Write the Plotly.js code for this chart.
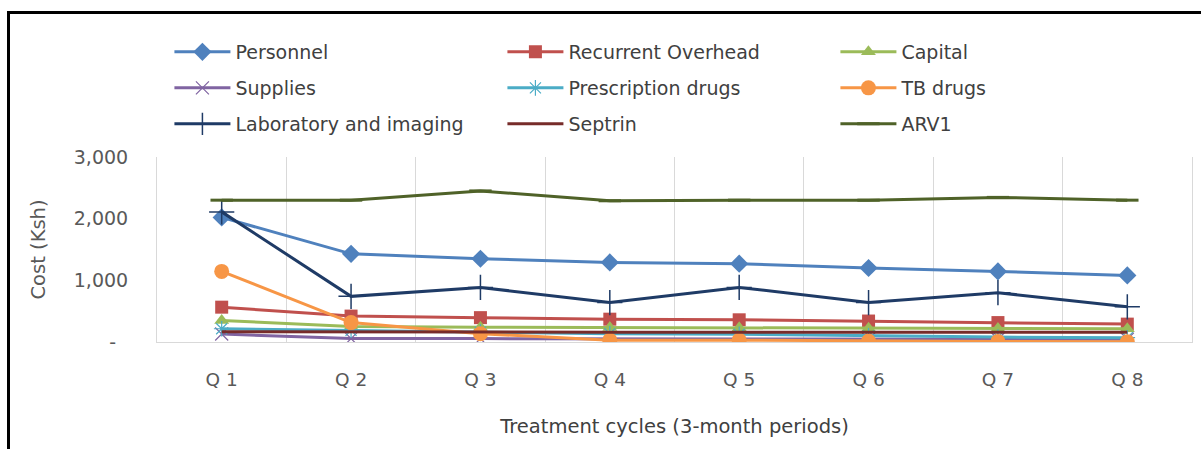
<!DOCTYPE html>
<html>
<head>
<meta charset="utf-8">
<script src="https://cdn.plot.ly/plotly-3.0.1.min.js"></script>
<style>
  html, body { margin: 0; padding: 0; background: #fff; }
  #wrap { position: relative; width: 1201px; height: 449px; overflow: hidden; }
  #chart { position: absolute; left: 0; top: 0; width: 1201px; height: 449px; }
  #frame { position: absolute; left: 7px; top: 11px; width: 1300px; height: 600px;
           border-left: 3px solid #000; border-top: 3px solid #000; pointer-events: none; }
</style>
</head>
<body>
<div id="wrap">
  <div id="chart"></div>
  <div id="frame"></div>
</div>
<script>
// ---- data ----
const categories = ['Q 1', 'Q 2', 'Q 3', 'Q 4', 'Q 5', 'Q 6', 'Q 7', 'Q 8'];
const personnel    = [2020, 1430, 1350, 1290, 1270, 1200, 1145, 1080];
const recurrent    = [565, 420, 395, 370, 360, 340, 315, 290];
const capital      = [350, 250, 240, 235, 230, 225, 220, 215];
const supplies     = [130, 55, 55, 50, 50, 45, 45, 45];
const prescription = [215, 190, 160, 135, 125, 100, 80, 70];
const tbDrugs      = [1145, 315, 135, 30, 30, 15, 10, 5];
const laboratory   = [2110, 740, 885, 640, 885, 640, 800, 570];
const septrin      = [165, 160, 160, 160, 160, 160, 160, 160];
const arv1         = [2300, 2300, 2450, 2290, 2300, 2300, 2345, 2300];
const yTickVals = [0, 1000, 2000, 3000];
const yTickText = ['-\u00a0\u00a0', '1,000', '2,000', '3,000'];

const FONT = 'DejaVu Sans, Open Sans, sans-serif';

function tr(name, y, color, symbol, size, legend, extra) {
  const t = {
    type: 'scatter', mode: 'lines+markers', name: name,
    x: categories, y: y, legend: legend,
    line: { color: color, width: 3 },
    marker: { symbol: symbol, size: size, color: color, line: { color: color, width: 0 } }
  };
  if (extra) Object.assign(t.marker, extra);
  return t;
}

const data = [
  tr('Personnel', personnel, '#4F81BD', 'diamond', 14, 'legend'),
  tr('Recurrent Overhead', recurrent, '#C0504D', 'square', 13, 'legend'),
  tr('Capital', capital, '#9BBB59', 'triangle-up', 13, 'legend'),
  tr('Supplies', supplies, '#8064A2', 'x-thin', 13, 'legend2', { line: { color: '#8064A2', width: 1.2 } }),
  tr('Prescription drugs', prescription, '#4BACC6', 'asterisk', 13, 'legend2', { line: { color: '#4BACC6', width: 1.2 } }),
  tr('TB drugs', tbDrugs, '#F79646', 'circle', 15, 'legend2'),
  tr('Laboratory and imaging', laboratory, '#1F3B66', 'cross-thin', 18, 'legend3', { line: { color: '#1F3B66', width: 1.5 } }),
  { type: 'scatter', mode: 'lines', name: 'Septrin', x: categories, y: septrin, legend: 'legend3',
    line: { color: '#772C2A', width: 3 } },
  tr('ARV1', arv1, '#4F6228', 'line-ew', 16, 'legend3', { line: { color: '#4F6228', width: 3 } })
];

const plotTop = 157, plotBottom = 342;
function py(p) { return (plotBottom - p) / (plotBottom - plotTop); }
const legBase = {
  orientation: 'h', xanchor: 'left', yanchor: 'middle', x: 0.012,
  entrywidth: 262, entrywidthmode: 'pixels', bgcolor: 'rgba(0,0,0,0)',
  font: { family: FONT, size: 19, color: '#404040' }, itemwidth: 56
};

const layout = {
  width: 1201, height: 449,
  margin: { l: 157, r: 9, t: plotTop, b: 449 - plotBottom },
  paper_bgcolor: 'rgba(0,0,0,0)', plot_bgcolor: '#fff',
  font: { family: FONT, color: '#595959' },
  showlegend: true,
  legend:  Object.assign({}, legBase, { y: py(52) }),
  legend2: Object.assign({}, legBase, { y: py(88) }),
  legend3: Object.assign({}, legBase, { y: py(124) }),
  xaxis: {
    type: 'category', range: [-0.5, 7.5], tickson: 'boundaries',
    showgrid: true, gridcolor: '#D9D9D9', gridwidth: 1,
    ticks: '', showline: true, linecolor: '#D9D9D9', linewidth: 1,
    ticklabelstandoff: 21,
    tickfont: { family: FONT, size: 18.5, color: '#595959' },
    title: { text: 'Treatment cycles (3-month periods)', standoff: 30,
             font: { family: FONT, size: 19.5, color: '#404040' } }
  },
  yaxis: {
    range: [0, 3000], tickvals: yTickVals, ticktext: yTickText,
    showgrid: false, zeroline: false, ticks: '',
    showline: true, mirror: true, linecolor: '#D9D9D9', linewidth: 1,
    ticklabelstandoff: 24,
    tickfont: { family: FONT, size: 19, color: '#595959' },
    title: { text: 'Cost (Ksh)', standoff: 22,
             font: { family: FONT, size: 19.5, color: '#595959' } }
  }
};

Plotly.newPlot('chart', data, layout, { displayModeBar: false, staticPlot: true });
</script>
</body>
</html>
